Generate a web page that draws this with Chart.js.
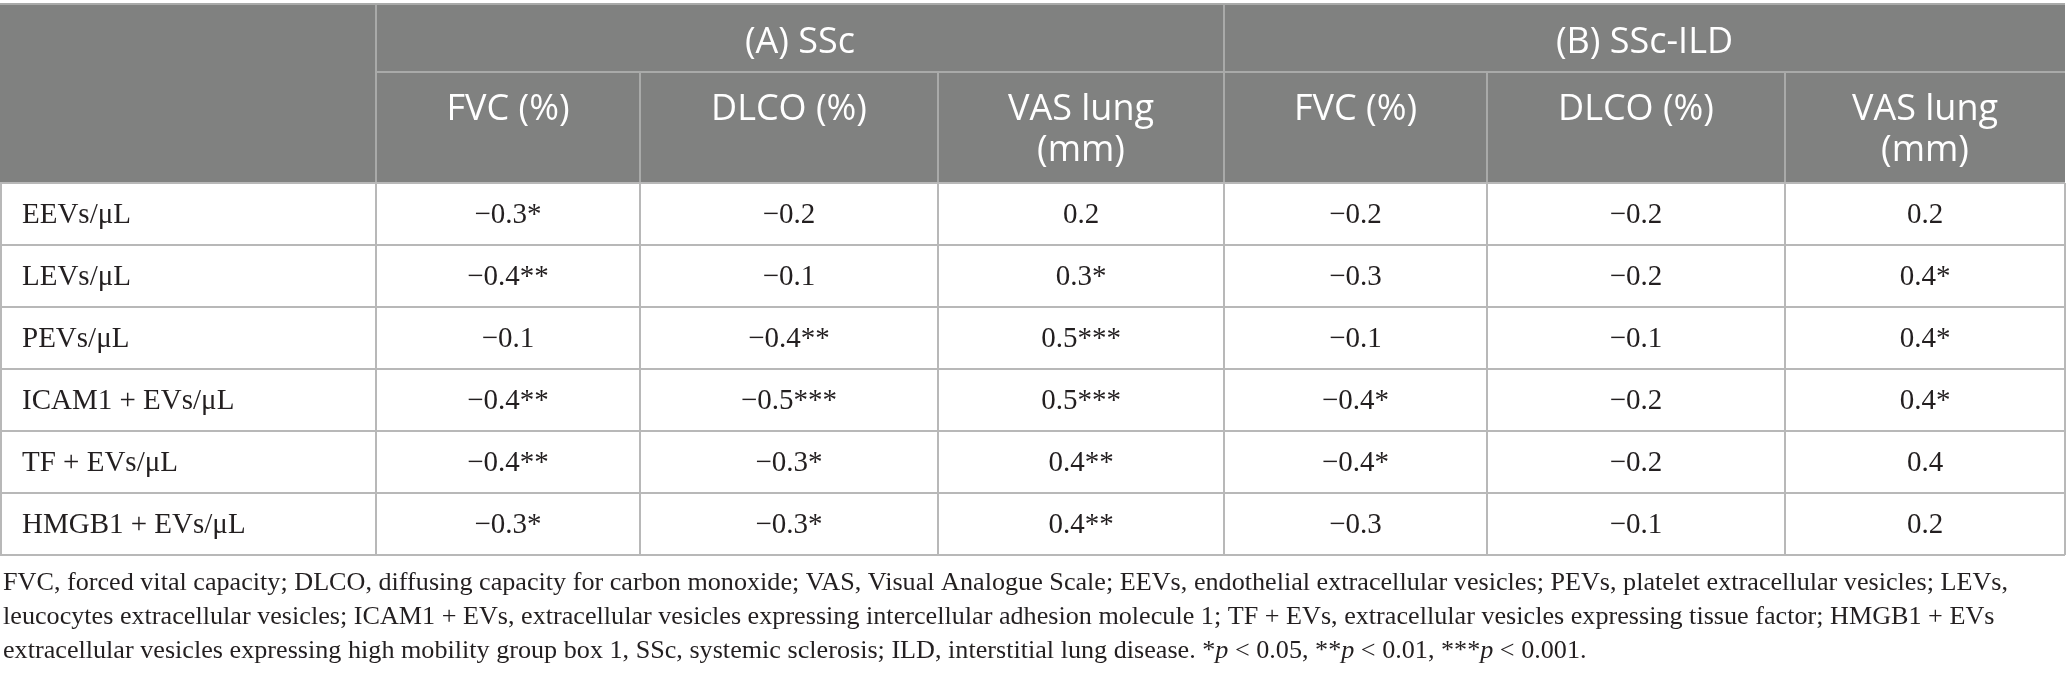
<!DOCTYPE html>
<html>
<head>
<meta charset="utf-8">
<script src="https://cdn.jsdelivr.net/npm/chart.js@4.4.1/dist/chart.umd.min.js"></script>
<style>
  html, body { margin: 0; padding: 0; background: #fff; }
  canvas { display: block; }
</style>
</head>
<body>
<canvas id="tbl" width="2068" height="685"></canvas>
<script>
// table content
const rowLabels = ['EEVs/μL', 'LEVs/μL', 'PEVs/μL', 'ICAM1 + EVs/μL', 'TF + EVs/μL', 'HMGB1 + EVs/μL'];
const groupLabels = ['(A) SSc', '(B) SSc-ILD'];
const measureLabels = [['FVC (%)'], ['DLCO (%)'], ['VAS lung', '(mm)']];

const sscFvc = [-0.3, -0.4, -0.1, -0.4, -0.4, -0.3];
const sscFvcSig = ['*', '**', '', '**', '**', '*'];
const sscDlco = [-0.2, -0.1, -0.4, -0.5, -0.3, -0.3];
const sscDlcoSig = ['', '', '**', '***', '*', '*'];
const sscVas = [0.2, 0.3, 0.5, 0.5, 0.4, 0.4];
const sscVasSig = ['', '*', '***', '***', '**', '**'];

const ildFvc = [-0.2, -0.3, -0.1, -0.4, -0.4, -0.3];
const ildFvcSig = ['', '', '', '*', '*', ''];
const ildDlco = [-0.2, -0.2, -0.1, -0.2, -0.2, -0.1];
const ildDlcoSig = ['', '', '', '', '', ''];
const ildVas = [0.2, 0.4, 0.4, 0.4, 0.4, 0.2];
const ildVasSig = ['', '*', '*', '*', '', ''];

const footLines = [
  'FVC, forced vital capacity; DLCO, diffusing capacity for carbon monoxide; VAS, Visual Analogue Scale; EEVs, endothelial extracellular vesicles; PEVs, platelet extracellular vesicles; LEVs,',
  'leucocytes extracellular vesicles; ICAM1 + EVs, extracellular vesicles expressing intercellular adhesion molecule 1; TF + EVs, extracellular vesicles expressing tissue factor; HMGB1 + EVs',
  'extracellular vesicles expressing high mobility group box 1, SSc, systemic sclerosis; ILD, interstitial lung disease. *_p_ < 0.05, **_p_ < 0.01, ***_p_ < 0.001.'
];

// layout (pixels on the x scale, header band heights)
const COL_EDGES = [0, 376, 640, 938, 1224, 1487, 1785, 2065];
const TOP = 4, HEAD1 = 72, HEAD2 = 183, BODY_BOTTOM = 555;
const HEAD_BG = '#808180';
const HEAD_LINE = '#a9aaa9';
const BODY_LINE = '#b8b8b8';
const INK = '#231f20';
const SANS = '"Open Sans", sans-serif';
const SERIF = '"Liberation Serif", "Times New Roman", serif';

const valueCols = [
  [sscFvc, sscFvcSig], [sscDlco, sscDlcoSig], [sscVas, sscVasSig],
  [ildFvc, ildFvcSig], [ildDlco, ildDlcoSig], [ildVas, ildVasSig]
];

function fmt(v, sig) {
  const s = Math.abs(v).toFixed(1);
  return (v < 0 ? '\u2212' : '') + s + sig;
}

function colMid(i) {
  return (COL_EDGES[i] + COL_EDGES[i + 1]) / 2;
}

const datasets = [{
  label: 'rows',
  data: rowLabels.map((l, i) => ({ x: COL_EDGES[0] + 22, y: i })),
  cellText: rowLabels,
  align: 'left',
  pointRadius: 0
}];
valueCols.forEach(([vals, sig], c) => {
  datasets.push({
    label: 'col' + c,
    data: vals.map((v, i) => ({ x: colMid(c + 1), y: i })),
    cellText: vals.map((v, i) => fmt(v, sig[i])),
    align: 'center',
    pointRadius: 0
  });
});

// text segments wrapped in _..._ are italic
function richWidth(ctx, line, size) {
  let w = 0;
  line.split('_').forEach((p, k) => {
    ctx.font = (k % 2 ? 'italic ' : '') + size + 'px ' + SERIF;
    w += ctx.measureText(p).width;
  });
  return w;
}

function drawRich(ctx, line, x, y, size) {
  line.split('_').forEach((p, k) => {
    ctx.font = (k % 2 ? 'italic ' : '') + size + 'px ' + SERIF;
    ctx.fillText(p, x, y);
    x += ctx.measureText(p).width;
  });
}

const tablePlugin = {
  id: 'tablePlugin',
  beforeDatasetsDraw(chart) {
    const { ctx, scales: { x, y } } = chart;
    const left = x.getPixelForValue(COL_EDGES[0]);
    const right = x.getPixelForValue(COL_EDGES[COL_EDGES.length - 1]);
    const rowEdge = i => y.getPixelForValue(i - 0.5);

    ctx.save();
    // header band
    ctx.fillStyle = HEAD_BG;
    ctx.fillRect(left, TOP, right - left, HEAD2 - TOP);

    ctx.lineWidth = 2;
    ctx.strokeStyle = HEAD_LINE;
    ctx.beginPath();
    ctx.moveTo(left, TOP); ctx.lineTo(right, TOP);
    ctx.moveTo(x.getPixelForValue(COL_EDGES[1]), HEAD1); ctx.lineTo(right, HEAD1);
    [1, 4].forEach(e => {
      const px = x.getPixelForValue(COL_EDGES[e]);
      ctx.moveTo(px, TOP); ctx.lineTo(px, HEAD2);
    });
    [2, 3, 5, 6].forEach(e => {
      const px = x.getPixelForValue(COL_EDGES[e]);
      ctx.moveTo(px, HEAD1); ctx.lineTo(px, HEAD2);
    });
    ctx.stroke();

    // body grid
    ctx.strokeStyle = BODY_LINE;
    ctx.beginPath();
    for (let i = 0; i <= rowLabels.length; i++) {
      const py = rowEdge(i);
      ctx.moveTo(left, py); ctx.lineTo(right, py);
    }
    COL_EDGES.forEach((e, k) => {
      const px = x.getPixelForValue(e) + (k === 0 ? 1 : 0);
      ctx.moveTo(px, rowEdge(0)); ctx.lineTo(px, rowEdge(rowLabels.length));
    });
    ctx.stroke();

    // header text
    ctx.fillStyle = '#ffffff';
    ctx.textAlign = 'center';
    ctx.textBaseline = 'middle';
    ctx.font = '36px ' + SANS;
    groupLabels.forEach((g, k) => {
      const a = x.getPixelForValue(COL_EDGES[1 + 3 * k]);
      const b = x.getPixelForValue(COL_EDGES[4 + 3 * k]);
      ctx.fillText(g, (a + b) / 2, 43);
    });
    for (let c = 0; c < 6; c++) {
      const lines = measureLabels[c % 3];
      lines.forEach((t, j) => {
        ctx.fillText(t, x.getPixelForValue(colMid(c + 1)), 110 + j * 41);
      });
    }
    ctx.restore();
  },
  afterDatasetsDraw(chart) {
    const { ctx } = chart;
    ctx.save();
    ctx.fillStyle = INK;
    ctx.textBaseline = 'middle';
    ctx.font = '29px ' + SERIF;
    chart.data.datasets.forEach((ds, d) => {
      ctx.textAlign = ds.align;
      chart.getDatasetMeta(d).data.forEach((el, i) => {
        ctx.fillText(ds.cellText[i], el.x, el.y + 1);
      });
    });

    // footnote: taller face, squeezed so the first line spans the table
    ctx.textAlign = 'left';
    const size = 26;
    const sx = 2005 / richWidth(ctx, footLines[0], size);
    footLines.forEach((line, k) => {
      ctx.save();
      ctx.translate(3, 583 + k * 34);
      ctx.scale(sx, 1);
      drawRich(ctx, line, 0, 0, size);
      ctx.restore();
    });
    ctx.restore();
  }
};

new Chart(document.getElementById('tbl'), {
  type: 'scatter',
  data: { datasets },
  options: {
    responsive: false,
    devicePixelRatio: 1,
    animation: false,
    layout: { padding: { top: HEAD2, bottom: 685 - BODY_BOTTOM, left: 0, right: 0 } },
    plugins: { legend: { display: false }, tooltip: { enabled: false } },
    scales: {
      x: { type: 'linear', display: false, min: 0, max: 2068 },
      y: { type: 'linear', display: false, reverse: true, min: -0.5, max: rowLabels.length - 0.5 }
    }
  },
  plugins: [tablePlugin]
});
</script>
</body>
</html>
